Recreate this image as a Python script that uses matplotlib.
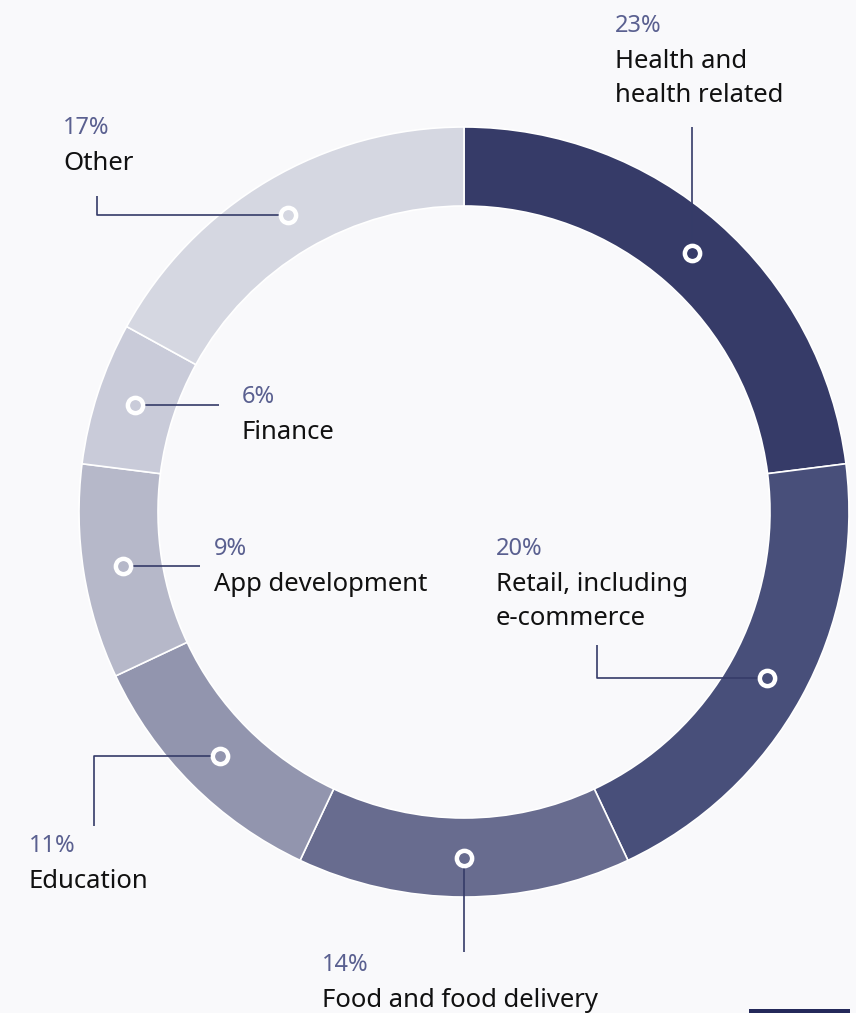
import numpy as np
import matplotlib
matplotlib.use("Agg")
import matplotlib.pyplot as plt
from matplotlib.patches import Rectangle

# data (clockwise from 12 o'clock)
labels = ["Health and\nhealth related", "Retail, including\ne-commerce",
          "Food and food delivery", "Education", "App development",
          "Finance", "Other"]
shares = [23, 20, 14, 11, 9, 6, 17]
colors = ["#363b68", "#484f7a", "#686c8f", "#9295ae", "#b6b8c9",
          "#c9cbd9", "#d5d7e1"]

# label anchors (pixel coords, y measured from top)
text_pos = [(615, 26), (496, 549), (322, 965), (29, 846), (214, 549), (242, 397), (63, 128)]
# leader legs: ("h", x) runs horizontally to x, ("v", y) runs vertically to y
leaders = [
    [("v", 127)],
    [("h", 597), ("v", 645)],
    [("v", 952)],
    [("h", 94), ("v", 826)],
    [("h", 200)],
    [("h", 219)],
    [("h", 97), ("v", 196)],
]

W, H = 856, 1013
BG = "#f9f9fb"
LINE = "#353b68"
PCT = "#5a6090"
plt.rcParams["font.family"] = ["Noto Sans", "DejaVu Sans"]

fig = plt.figure(figsize=(W / 100, H / 100), dpi=100, facecolor=BG)
ax = fig.add_axes([0, 0, 1, 1])

cx, cy = 464, H - 512
r_out, ring = 385, 79

ax.pie(shares, colors=colors, startangle=90, counterclock=False,
       radius=r_out, center=(cx, cy), frame=True,
       wedgeprops=dict(width=ring, edgecolor="white", linewidth=1.2))
ax.set_xlim(0, W)
ax.set_ylim(0, H)
ax.set_aspect("auto")
ax.set_facecolor(BG)
ax.axis("off")

r_mid = r_out - ring / 2
cum = np.cumsum([0] + shares[:-1])
for i, s in enumerate(shares):
    ang = np.deg2rad(90 - (cum[i] + s / 2) * 3.6)
    dx, dy = cx + r_mid * np.cos(ang), cy + r_mid * np.sin(ang)
    xs, ys = [dx], [dy]
    for kind, val in leaders[i]:
        if kind == "h":
            xs.append(val); ys.append(ys[-1])
        else:
            xs.append(xs[-1]); ys.append(H - val)
    ax.plot(xs, ys, color=LINE, lw=1.2, zorder=3, solid_capstyle="butt")
    ax.plot(dx, dy, "o", ms=11, mfc=colors[i], mec="white", mew=3.2, zorder=4)

    tx, ty = text_pos[i]
    ax.text(tx, H - ty, f"{s}%", color=PCT, fontsize=17,
            ha="left", va="center")
    for j, line in enumerate(labels[i].split("\n")):
        ax.text(tx, H - ty - 35 - j * 34, line, color="#111111", fontsize=18.5,
                ha="left", va="center")

ax.add_patch(Rectangle((749, 0), 101, 4, color="#24295a", lw=0))

fig.savefig("out.png", dpi=100, facecolor=BG)
